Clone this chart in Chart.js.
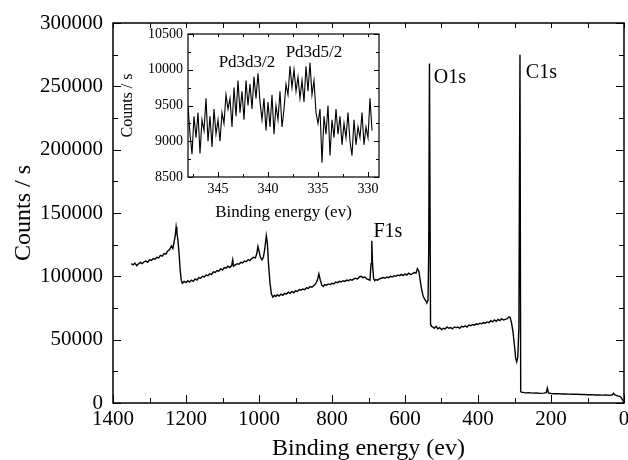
<!DOCTYPE html>
<html>
<head>
<meta charset="utf-8">
<script src="https://cdn.jsdelivr.net/npm/chart.js@4.4.0/dist/chart.umd.min.js"></script>
<style>
body { margin: 0; background: #fff; }
#wrap { position: relative; width: 628px; height: 460px; overflow: hidden; }
#main { position: absolute; left: 0; top: 0; }
#inset { position: absolute; left: 110px; top: 28px; }
</style>
</head>
<body>
<div id="wrap">
<canvas id="main" width="628" height="460"></canvas>
<canvas id="inset" width="275" height="200"></canvas>
</div>
<script>
// survey spectrum (binding energy in eV, counts / s)
const surveyEnergy = [
    1350, 1345, 1340, 1335, 1330, 1325, 1320, 1315, 1310, 1305, 1300, 1295, 1290, 1285, 1280, 1275, 1270, 1265, 1260, 1255,
    1250, 1245, 1240, 1236, 1232, 1229, 1227, 1225, 1222, 1219, 1216, 1213, 1210, 1205, 1200, 1195, 1190, 1185, 1180, 1175,
    1170, 1165, 1160, 1155, 1150, 1145, 1140, 1135, 1130, 1125, 1120, 1115, 1110, 1105, 1100, 1095, 1090, 1085, 1080, 1075,
    1072, 1070, 1065, 1060, 1055, 1050, 1045, 1040, 1035, 1030, 1025, 1020, 1015, 1010, 1006, 1003, 1000, 996, 992, 988,
    984, 980, 977, 974, 970, 966, 962, 958, 954, 950, 945, 940, 935, 930, 925, 920, 915, 910, 905, 900,
    895, 890, 885, 880, 875, 870, 865, 860, 855, 850, 845, 840, 836, 832, 828, 824, 820, 815, 810, 805,
    800, 795, 790, 785, 780, 775, 770, 765, 760, 755, 750, 745, 740, 735, 730, 725, 720, 715, 710, 705,
    700, 696, 693, 691, 689, 686, 683, 680, 675, 670, 665, 660, 655, 650, 645, 640, 635, 630, 625, 620,
    615, 610, 605, 600, 595, 590, 585, 580, 575, 570, 566, 562, 558, 554, 550, 546, 542, 540, 537, 535,
    533, 530, 527, 524, 520, 515, 510, 505, 500, 495, 490, 485, 480, 475, 470, 465, 460, 455, 450,
    445, 440, 435, 430, 425, 420, 415, 410, 405, 400, 395, 390, 385, 380, 375, 370, 365, 360, 355, 350,
    345, 340, 335, 330, 325, 320, 315, 312, 308, 304, 300, 297, 294, 291, 288, 285, 283, 280,
    276, 270, 260, 250, 240, 230, 220, 213, 210, 207, 200, 190, 180, 170, 160, 150, 140, 130, 120, 110,
    100, 90, 80, 70, 60, 50, 40, 32, 29, 26, 20, 10, 5, 0
];
const surveyCounts = [
    110000, 109000, 110500, 108500, 110000, 111000, 110000, 111500, 112000, 111000, 113000, 112500, 114000, 113500, 115000, 114500, 116500, 116000, 118000, 117500,
    120000, 121000, 124000, 122000, 128000, 133000, 139000, 135000, 128000, 118000, 105000, 97000, 94500, 96000, 95000, 96500, 95500, 97000, 96000, 98000,
    97000, 99000, 98500, 100000, 99500, 101000, 100500, 102000, 101500, 103500, 103000, 104500, 104000, 106000, 105000, 107000, 106500, 108000, 107000, 108500,
    113000, 108000, 109000, 110000, 109500, 111000, 110500, 112000, 111500, 113000, 112500, 114000, 115000, 114500, 118000, 123500, 120000, 115000, 113000, 115000,
    122000, 132000, 126000, 110000, 95000, 86000, 83500, 85000, 84000, 85500, 84500, 86000, 85000, 86500, 86000, 87500, 86500, 88000, 87000, 88500,
    88000, 89500, 89000, 90000, 89500, 91000, 90500, 92000, 91500, 92500, 94000, 97000, 102000, 97000, 93000, 92000, 93500, 93000, 94000, 93500,
    94500, 94000, 95500, 95000, 96000, 95500, 96500, 96000, 97000, 96500, 97500, 97000, 98000, 98500, 98000, 99500, 100000, 99000, 99500, 98000,
    97500, 97000, 110000, 128000, 110000, 98000, 96500, 97500, 97000, 98000, 98500, 99000, 98500, 99500, 99000, 100000, 99500, 100500, 100000, 101000,
    100500, 101500, 100500, 102000, 101000, 102500, 101500, 102000, 103000, 102500, 106000, 104000, 96000, 89000, 84000, 82000, 80000, 79500, 81000, 120000,
    268000, 62000, 60500, 60000, 59000, 60500, 58500, 59500, 58000, 59000, 58500, 60000, 59000, 59500, 58500, 60000, 59500, 60000, 59000,
    60500, 60000, 61000, 60000, 61500, 61000, 62000, 61500, 62500, 62000, 63000, 62500, 63500, 63000, 64000, 63500, 65000, 64000, 65500, 64500,
    66000, 65000, 66500, 65500, 66000, 66500, 68000, 67500, 63000, 56000, 45000, 36000, 32500, 36000, 60000, 275000, 9000, 8400,
    8400, 8000, 8200, 7800, 8000, 7600, 7800, 8200, 11800, 8000, 7500, 7300, 7400, 7100, 7200, 7000, 6900, 7000, 6700, 6800,
    6500, 6600, 6300, 6400, 6200, 6300, 6000, 6500, 7800, 6600, 5800, 5000, 3000, 500
];
const surveyTicksX = [1400, 1200, 1000, 800, 600, 400, 200, 0];
const surveyTicksY = [0, 50000, 100000, 150000, 200000, 250000, 300000];
const peakNames = ['O1s', 'C1s', 'F1s'];

// Pd 3d region (inset)
const pdEnergy = [
    348.0, 347.8, 347.6, 347.4, 347.2, 347.0, 346.8, 346.6, 346.4, 346.2, 346.0, 345.8, 345.6, 345.4, 345.2, 345.0,
    344.8, 344.6, 344.4, 344.2, 344.0, 343.8, 343.6, 343.4, 343.2, 343.0, 342.8, 342.6, 342.4, 342.2, 342.0, 341.8,
    341.6, 341.4, 341.2, 341.0, 340.8, 340.6, 340.4, 340.2, 340.0, 339.8, 339.6, 339.4, 339.2, 339.0, 338.8, 338.6,
    338.4, 338.2, 338.0, 337.8, 337.6, 337.4, 337.2, 337.0, 336.8, 336.6, 336.4, 336.2, 336.0, 335.8, 335.6, 335.4,
    335.2, 335.0, 334.8, 334.6, 334.4, 334.2, 334.0, 333.8, 333.6, 333.4, 333.2, 333.0, 332.8, 332.6, 332.4, 332.2,
    332.0, 331.8, 331.6, 331.4, 331.2, 331.0, 330.8, 330.6, 330.4, 330.2, 330.0, 329.8, 329.6
];
const pdCounts = [
    9500, 9100, 8820, 9350, 9050, 9400, 8830, 9300, 9150, 9600, 9000, 9350, 8920, 9450, 9100, 9300,
    9000, 9400, 9250, 9650, 9450, 9600, 9200, 9750, 9350, 9850, 9400, 9700, 9300, 9850, 9500, 9800,
    9450, 9900, 9600, 9950, 9550, 9300, 9600, 9150, 9550, 9200, 9650, 9100, 9500, 9300, 9700, 9200,
    9450, 9800, 9650, 10050, 9750, 10000, 9700, 9900, 9600, 9850, 9550, 10050, 9700, 10100, 9650, 9850,
    9400, 9250, 9450, 8700, 9350, 9100, 9500, 8800, 9300, 9050, 9450, 9100, 9350, 8950, 9250, 9050,
    9400, 9000, 8800, 9300, 8950, 9200, 9050, 9400, 8950, 9200, 9050, 9600, 9150
];
const pdTicksX = [345, 340, 335, 330];
const pdTicksY = [8500, 9000, 9500, 10000, 10500];
const pdNames = ['Pd3d3/2', 'Pd3d5/2'];

const serif = '"Liberation Serif", "Times New Roman", serif';

// frame + inward ticks on all four sides
function drawFrame(chart, o) {
    const ctx = chart.ctx;
    const a = chart.chartArea;
    const sx = chart.scales.x, sy = chart.scales.y;
    ctx.save();
    ctx.strokeStyle = '#000';
    ctx.lineWidth = o.width;
    ctx.strokeRect(a.left, a.top, a.right - a.left, a.bottom - a.top);
    ctx.lineWidth = 1;
    ctx.beginPath();
    const x0 = Math.ceil(sx.min / o.minorX) * o.minorX;
    for (let v = x0; v <= sx.max + 1e-9; v += o.minorX) {
        const px = Math.round(sx.getPixelForValue(v)) + 0.5;
        const major = o.ticksX.some(t => Math.abs(t - v) < 1e-6);
        const len = major ? o.major : o.minor;
        ctx.moveTo(px, a.bottom); ctx.lineTo(px, a.bottom - len);
        ctx.moveTo(px, a.top); ctx.lineTo(px, a.top + o.minor);
    }
    for (let v = sy.min; v <= sy.max + 1e-9; v += o.minorY) {
        const py = Math.round(sy.getPixelForValue(v)) + 0.5;
        const major = o.ticksY.some(t => Math.abs(t - v) < 1e-6);
        const len = major ? o.major : o.minor;
        ctx.moveTo(a.left, py); ctx.lineTo(a.left + len, py);
        ctx.moveTo(a.right, py); ctx.lineTo(a.right - len, py);
    }
    ctx.stroke();
    ctx.restore();
}

function drawLabels(chart, labels, size) {
    const ctx = chart.ctx;
    const sx = chart.scales.x, sy = chart.scales.y;
    ctx.save();
    ctx.fillStyle = '#000';
    ctx.font = size + 'px ' + serif;
    ctx.textBaseline = 'middle';
    labels.forEach(l => {
        ctx.textAlign = l.align;
        ctx.fillText(l.text, sx.getPixelForValue(l.x), sy.getPixelForValue(l.y));
    });
    ctx.restore();
}

new Chart(document.getElementById('main').getContext('2d'), {
    type: 'line',
    data: {
        datasets: [{
            data: surveyEnergy.map((e, i) => ({ x: e, y: surveyCounts[i] })),
            borderColor: '#000',
            borderWidth: 1.4,
            pointRadius: 0,
            tension: 0,
            fill: false
        }]
    },
    options: {
        responsive: false,
        animation: false,
        layout: { padding: { top: 23, right: 4, left: 0, bottom: 0 } },
        plugins: { legend: { display: false }, tooltip: { enabled: false } },
        scales: {
            x: {
                type: 'linear',
                reverse: true,
                min: 0,
                max: 1400,
                afterBuildTicks: s => { s.ticks = surveyTicksX.map(v => ({ value: v })); },
                afterFit: s => { s.height = 57; s.paddingLeft = 0; s.paddingRight = 0; },
                grid: { display: false, drawTicks: false },
                border: { display: false },
                ticks: { color: '#000', font: { family: serif, size: 21 }, padding: 4, maxRotation: 0, autoSkip: false, callback: v => String(v) },
                title: { display: true, text: 'Binding energy (ev)', color: '#000', font: { family: serif, size: 24 }, padding: { top: 0, bottom: -3 } }
            },
            y: {
                min: 0,
                max: 300000,
                afterBuildTicks: s => { s.ticks = surveyTicksY.map(v => ({ value: v })); },
                afterFit: s => { s.width = 113; s.paddingTop = 0; s.paddingBottom = 0; },
                grid: { display: false, drawTicks: false },
                border: { display: false },
                ticks: { color: '#000', font: { family: serif, size: 21 }, padding: 10, callback: v => String(v) },
                title: { display: true, text: 'Counts / s', color: '#000', font: { family: serif, size: 24 }, padding: { top: 9, bottom: 0 } }
            }
        }
    },
    plugins: [{
        id: 'frame',
        afterDraw: chart => {
            drawFrame(chart, { width: 1.5, major: 8, minor: 5, minorX: 100, minorY: 25000, ticksX: surveyTicksX, ticksY: surveyTicksY });
            drawLabels(chart, [
                { text: peakNames[0], x: 521, y: 256800, align: 'left' },
                { text: peakNames[1], x: 269, y: 260800, align: 'left' },
                { text: peakNames[2], x: 647, y: 135200, align: 'center' }
            ], 20);
        }
    }]
});

new Chart(document.getElementById('inset').getContext('2d'), {
    type: 'line',
    data: {
        datasets: [{
            data: pdEnergy.map((e, i) => ({ x: e, y: pdCounts[i] })),
            borderColor: '#000',
            borderWidth: 1.1,
            pointRadius: 0,
            tension: 0,
            fill: false
        }]
    },
    options: {
        responsive: false,
        animation: false,
        layout: { padding: { top: 6, right: 6, left: 0, bottom: 0 } },
        plugins: { legend: { display: false }, tooltip: { enabled: false } },
        scales: {
            x: {
                type: 'linear',
                reverse: true,
                min: 328.9,
                max: 348,
                afterBuildTicks: s => { s.ticks = pdTicksX.map(v => ({ value: v })); },
                afterFit: s => { s.height = 51; s.paddingLeft = 0; s.paddingRight = 0; },
                grid: { display: false, drawTicks: false },
                border: { display: false },
                ticks: { color: '#000', font: { family: serif, size: 14 }, padding: 4, maxRotation: 0, autoSkip: false, callback: v => String(v) },
                title: { display: true, text: 'Binding energy (ev)', color: '#000', font: { family: serif, size: 17 }, padding: { top: 0, bottom: 5 } }
            },
            y: {
                min: 8500,
                max: 10500,
                afterBuildTicks: s => { s.ticks = pdTicksY.map(v => ({ value: v })); },
                afterFit: s => { s.width = 78; s.paddingTop = 0; s.paddingBottom = 0; },
                grid: { display: false, drawTicks: false },
                border: { display: false },
                ticks: { color: '#000', font: { family: serif, size: 14 }, padding: 5, callback: v => String(v) },
                title: { display: true, text: 'Counts / s', color: '#000', font: { family: serif, size: 16 }, padding: { top: 8, bottom: 0 } }
            }
        }
    },
    plugins: [{
        id: 'frame',
        afterDraw: chart => {
            drawFrame(chart, { width: 1.2, major: 5, minor: 3, minorX: 2.5, minorY: 250, ticksX: pdTicksX, ticksY: pdTicksY });
            drawLabels(chart, [
                { text: pdNames[0], x: 342.1, y: 10094, align: 'center' },
                { text: pdNames[1], x: 335.4, y: 10234, align: 'center' }
            ], 17);
        }
    }]
});
</script>
</body>
</html>
